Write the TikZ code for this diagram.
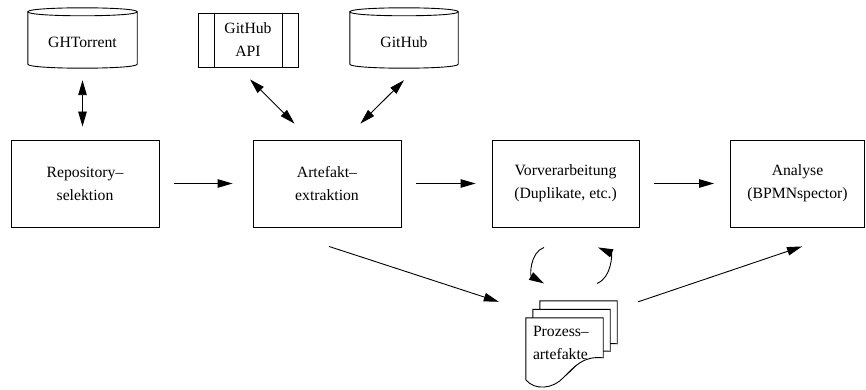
\documentclass[tikz,border=0pt]{standalone}
\usepackage{fontspec}
\setmainfont{Liberation Serif}
\usetikzlibrary{arrows.meta,calc}
\newcommand\diafont{\fontsize{15.7}{23}\selectfont}
\newcommand\drawcyl[1]{%
  \draw[ln, fill=white] ($(#1.north west)+(0,4)$) -- ($(#1.south west)+(0,-4)$)
    .. controls ($(#1.south west)+(0,1.33)$) and ($(#1.south east)+(0,1.33)$) .. ($(#1.south east)+(0,-4)$)
    -- ($(#1.north east)+(0,4)$);
  \draw[ln] ($(#1.north west)+(0,4)$)
    .. controls ($(#1.north west)+(0,-1.33)$) and ($(#1.north east)+(0,-1.33)$) .. ($(#1.north east)+(0,4)$)
    .. controls ($(#1.north east)+(0,9.33)$) and ($(#1.north west)+(0,9.33)$) .. cycle;}
\newcommand\docpage[3]{%
  \coordinate (dnw) at ($(doc.north west)+(#1,#2)$);
  \coordinate (dne) at ($(doc.north east)+(#1,#2)$);
  \coordinate (dwe) at ($(dne)+(0,#3)$);
  \coordinate (dww) at ($(dnw)+(0,#3)$);
  \draw[ln, fill=white] (dnw) -- (dne)
    -- ($(dwe)+(0,40)$)
    .. controls ($(dwe)+(-20,38)$) and ($(dwe)+(-28,48)$) .. ($(dwe)+(-40,60)$)
    .. controls ($(dwe)+(-50,71)$) and ($(dww)+(9,73)$) .. ($(dww)+(0,62)$)
    -- cycle;}
\begin{document}
\begin{tikzpicture}[x=1pt,y=-1pt,
  ln/.style={line width=0.9pt},
  box/.style={draw, line width=0.9pt, minimum height=87pt, inner sep=0pt, align=center, font=\diafont},
  cylframe/.style={minimum height=60pt, inner sep=0pt},
  txt/.style={font=\diafont, inner sep=0pt, align=center},
  arr/.style={line width=0.9pt, -{Triangle[length=15pt,width=8.5pt]}},
  darr/.style={line width=0.9pt, {Triangle[length=15pt,width=8.5pt]}-{Triangle[length=15pt,width=8.5pt]}}]
\useasboundingbox (0,0) rectangle (866,390);

% main process boxes
\node[box, minimum width=148pt] (repo) at (85,183.5) {Repository–\\selektion};
\node[box, minimum width=148pt] (art) at (327,183.5) {Artefakt–\\extraktion};
\node[box, minimum width=147pt] (vor) at (565.5,183.5) {Vorverarbeitung\\(Duplikate, etc.)};
\node[box, minimum width=134pt] (ana) at (797.5,183.5) {Analyse\\(BPMNspector)};

% data sources
\node[cylframe, minimum width=109pt] (ght) at (82.5,38) {};
\drawcyl{ght}
\node[txt] (ghtt) at ($(ght.center)+(0,4.5)$) {GHTorrent};

\node[cylframe, minimum width=108pt] (gh) at (404,38) {};
\drawcyl{gh}
\node[txt] (ght2) at ($(gh.center)+(0,4)$) {GitHub};

\node[box, minimum width=100pt, minimum height=54pt] (api) at (248,40) {GitHub\\API};
\draw[ln] ($(api.north west)+(17,0)$) -- ($(api.south west)+(17,0)$);
\draw[ln] ($(api.north east)+(-16,0)$) -- ($(api.south east)+(-16,0)$);

% document stack
\node[minimum width=77pt, minimum height=62pt, inner sep=0pt] (doc) at (564.5,349) {};
\docpage{14}{-17}{3}
\docpage{7}{-8.5}{2}
\docpage{0}{0}{0}
\node[font=\diafont, text width=63pt, align=left, inner sep=0pt] (doct) at (564.5,343) {Prozess–\\artefakte};

% connectors
\draw[darr, shorten <=12pt, shorten >=13pt] (ght.south) -- (ght.south |- repo.north);
\draw[darr, shorten <=17pt, shorten >=22.6pt] ($(api.south)+(-10,0)$) -- ($(art.north west)+(58,0)$);
\draw[darr, shorten <=17pt, shorten >=22.6pt] ($(gh.south)+(12,0)$) -- ($(art.north east)+(-57,0)$);

\draw[arr, shorten <=15pt, shorten >=20pt] (repo) -- (art);
\draw[arr, shorten <=15pt, shorten >=16pt] (art) -- (vor);
\draw[arr, shorten <=15pt, shorten >=16pt] (vor) -- (ana);

\draw[arr] ($(art.south)+(2,19)$) -- ($(doc.north west)+(-27,-16)$);
\draw[arr] ($(doc.north east)+(35,-16)$) -- ($(ana.south)+(4.5,19)$);

\draw[arr] ($(vor.south)+(-21.5,20)$) .. controls ($(vor.south)+(-35.5,25)$) and ($(vor.south)+(-35.5,48)$) .. ($(vor.south)+(-21.5,56)$);
\draw[arr] ($(vor.south)+(31.5,56)$) .. controls ($(vor.south)+(46.5,50)$) and ($(vor.south)+(46.5,26)$) .. ($(vor.south)+(32.5,20)$);
\end{tikzpicture}
\end{document}
